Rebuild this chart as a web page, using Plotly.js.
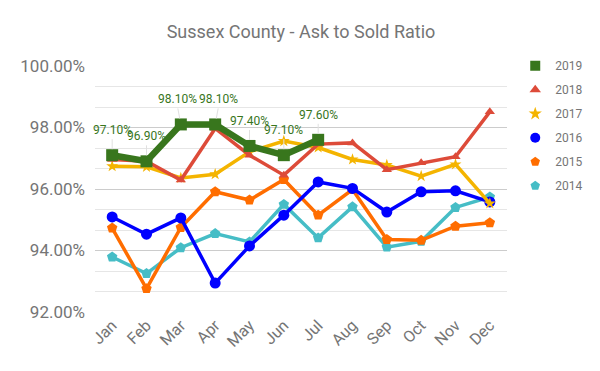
<!DOCTYPE html>
<html><head><meta charset="utf-8">
<script src="https://cdn.plot.ly/plotly-3.0.1.min.js"></script>
<style>body{margin:0;padding:0;background:#fff}#chart{width:600px;height:371px}</style>
</head><body><div id="chart"></div>
<script>
const months = ['Jan','Feb','Mar','Apr','May','Jun','Jul','Aug','Sep','Oct','Nov','Dec'];
const years = ['2019','2018','2017','2016','2015','2014'];
const v2019 = [97.1, 96.9, 98.1, 98.1, 97.4, 97.1, 97.6];
const v2018 = [96.96, 96.9, 96.29, 97.97, 97.1, 96.45, 97.46, 97.5, 96.63, 96.85, 97.05, 98.51];
const v2017 = [96.74, 96.72, 96.36, 96.48, 97.21, 97.56, 97.35, 96.96, 96.78, 96.42, 96.8, 95.53];
const v2016 = [95.09, 94.53, 95.06, 92.94, 94.15, 95.15, 96.23, 96.02, 95.25, 95.91, 95.94, 95.58];
const v2015 = [94.73, 92.76, 94.75, 95.91, 95.64, 96.31, 95.15, 95.98, 94.36, 94.33, 94.79, 94.9];
const v2014 = [93.79, 93.25, 94.09, 94.55, 94.28, 95.5, 94.41, 95.42, 94.11, 94.3, 95.4, 95.74];
const labels2019 = v2019.map(v => v.toFixed(2) + '%');

const colors = ['#38761d','#dd4b39','#f4b400','#0000ff','#ff6d00','#46bdc6'];
const symbols = ['square','triangle-up','star','circle','pentagon','pentagon'];
const series = [v2019, v2018, v2017, v2016, v2015, v2014];
const widths = [6.5, 3.5, 3.5, 3.5, 3.5, 3.5];
const msize = [12, 9, 9, 11, 11, 11];
const labelShift = [0, 0, -3, 3, 0, 0, 0];

const traces = [];
for (let i = series.length - 1; i >= 0; i--) {
  traces.push({
    x: months.slice(0, series[i].length), y: series[i], name: years[i],
    type: 'scatter', mode: 'lines+markers', showlegend: false,
    line: {color: colors[i], width: widths[i]},
    marker: {color: colors[i], symbol: symbols[i], size: msize[i]},
    hoverinfo: 'skip'
  });
}
for (let i = 0; i < series.length; i++) {
  traces.push({
    x: [null], y: [null], name: years[i], type: 'scatter', mode: 'markers',
    marker: {color: colors[i], symbol: symbols[i], size: 10},
    legendgroup: 'g' + i
  });
}

const annotations = v2019.map((v, k) => ({
  x: months[k], y: v, xref: 'x', yref: 'y', text: labels2019[k],
  showarrow: true, arrowhead: 0, arrowwidth: 1, arrowcolor: '#e0e0e0',
  ax: labelShift[k], ay: -16, standoff: 6, yanchor: 'bottom',
  font: {family: 'Roboto', size: 12, color: '#38761d'}
}));

const layout = {
  width: 600, height: 371,
  margin: {l: 95, r: 87, t: 66, b: 59},
  paper_bgcolor: '#fff', plot_bgcolor: '#fff',
  font: {family: 'Roboto', color: '#757575'},
  title: {text: 'Sussex County - Ask to Sold Ratio', x: 0.5, xref: 'paper', y: 0.915, yanchor: 'middle',
          font: {family: 'Roboto', size: 18, color: '#757575'}},
  xaxis: {type: 'category', range: [-0.5, 11.5], tickangle: -45, showgrid: false, zeroline: false,
          showline: false, ticks: '', tickfont: {size: 16, color: '#757575'}, fixedrange: true},
  yaxis: {range: [92, 100], dtick: 2, tick0: 92, tickformat: '.2f', ticksuffix: '%',
          gridcolor: '#cccccc', gridwidth: 1, zeroline: false, showline: false, ticks: '',
          tickfont: {size: 17, color: '#757575'}, ticklabelstandoff: 9,
          minor: {dtick: 2/3, tick0: 92, showgrid: true, gridcolor: '#e6e6e6', gridwidth: 1}},
  legend: {x: 1.02, xanchor: 'left', y: 1.06, yanchor: 'top', font: {size: 12, color: '#757575'},
           traceorder: 'grouped', tracegroupgap: 5, itemwidth: 30, bgcolor: 'rgba(0,0,0,0)'},
  annotations: annotations,
  showlegend: true
};
Plotly.newPlot('chart', traces, layout, {displayModeBar: false, staticPlot: true});
</script></body></html>
